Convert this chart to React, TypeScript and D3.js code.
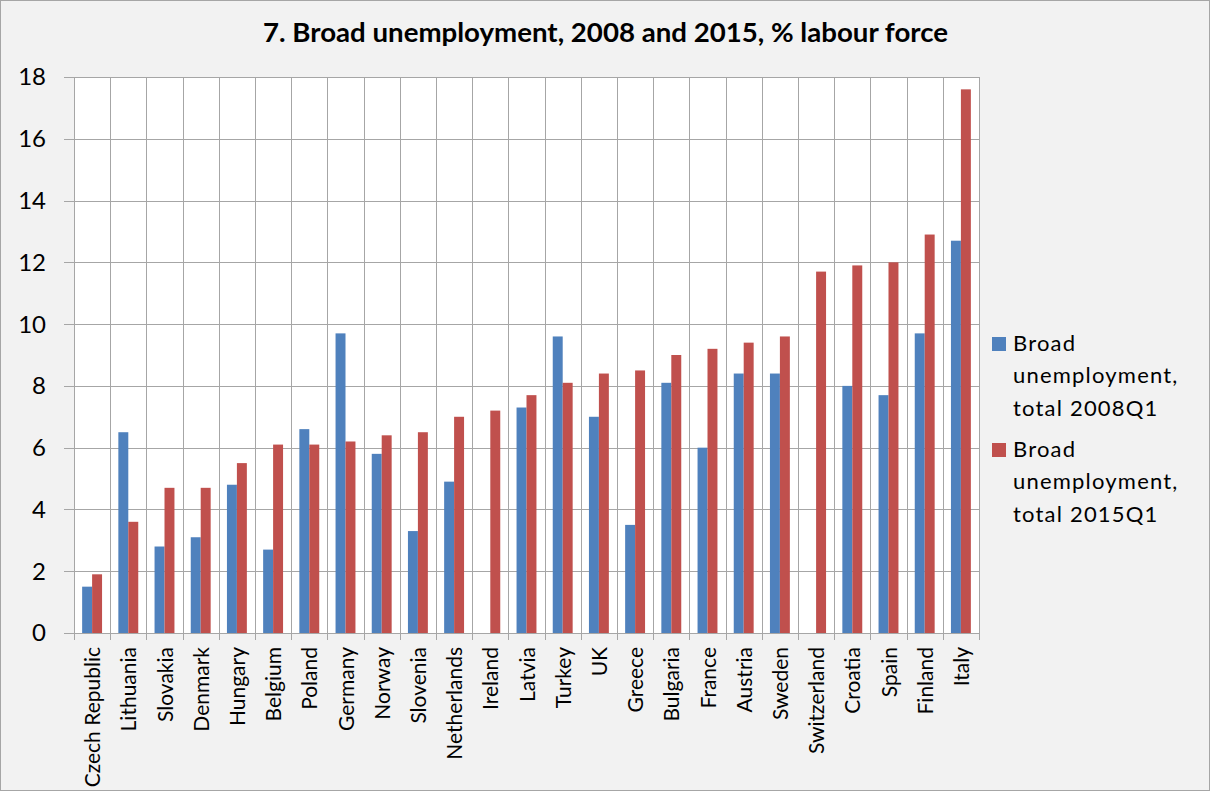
import React from "react";
import * as d3 from "d3";

const countries = [
  "Czech Republic", "Lithuania", "Slovakia", "Denmark", "Hungary", "Belgium", "Poland",
  "Germany", "Norway", "Slovenia", "Netherlands", "Ireland", "Latvia", "Turkey", "UK",
  "Greece", "Bulgaria", "France", "Austria", "Sweden", "Switzerland", "Croatia", "Spain",
  "Finland", "Italy",
];
const values2008: (number | null)[] = [
  1.5, 6.5, 2.8, 3.1, 4.8, 2.7, 6.6, 9.7, 5.8, 3.3, 4.9, null, 7.3, 9.6, 7.0,
  3.5, 8.1, 6.0, 8.4, 8.4, null, 8.0, 7.7, 9.7, 12.7,
];
const values2015: (number | null)[] = [
  1.9, 3.6, 4.7, 4.7, 5.5, 6.1, 6.1, 6.2, 6.4, 6.5, 7.0, 7.2, 7.7, 8.1, 8.4,
  8.5, 9.0, 9.2, 9.4, 9.6, 11.7, 11.9, 12.0, 12.9, 17.6,
];
const seriesNames = ["Broad unemployment, total 2008Q1", "Broad unemployment, total 2015Q1"];
const seriesLegendLines = [
  ["Broad", "unemployment,", "total 2008Q1"],
  ["Broad", "unemployment,", "total 2015Q1"],
];
const seriesColors = ["#4f81bd", "#c0504d"];
const yTicks = [0, 2, 4, 6, 8, 10, 12, 14, 16, 18];
const title = "7. Broad unemployment, 2008 and 2015, % labour force";

const W = 1210;
const H = 791;
const plot = { left: 74, right: 979, top: 77, bottom: 633 };
const FONT = "Lato, 'Open Sans', sans-serif";

export default function App() {
  const x = d3.scaleBand<string>().domain(countries).range([plot.left, plot.right]).padding(0);
  const bw = x.bandwidth();
  const x1 = d3
    .scaleBand<number>()
    .domain([0, 1])
    .range([bw * 0.225, bw * 0.775])
    .padding(0);
  const y = d3.scaleLinear().domain([0, 18]).range([plot.bottom, plot.top]);
  const series = [values2008, values2015];
  const gridColor = "#a6a6a6";

  return (
    <div style={{ position: "absolute", left: 0, top: 0 }}>
      <svg width={W} height={H} style={{ display: "block" }}>
        <rect x={0.5} y={0.5} width={W - 1} height={H - 1} fill="#f2f2f2" stroke="#a6a6a6" />
        <text
          x={605.5}
          y={42}
          textAnchor="middle"
          fontFamily={FONT}
          fontWeight="bold"
          fontSize={27}
          textLength={685}
          lengthAdjust="spacingAndGlyphs"
          fill="#000"
        >
          {title}
        </text>
        <rect
          x={plot.left}
          y={plot.top}
          width={plot.right - plot.left}
          height={plot.bottom - plot.top}
          fill="#fff"
        />
        {yTicks.map((t) => (
          <line
            key={"h" + t}
            x1={plot.left - 10}
            x2={plot.right}
            y1={Math.round(y(t)) + 0.5}
            y2={Math.round(y(t)) + 0.5}
            stroke={gridColor}
            strokeWidth={1}
          />
        ))}
        {d3.range(countries.length + 1).map((i) => {
          const xx = Math.round(plot.left + i * bw) + 0.5;
          return (
            <line
              key={"v" + i}
              x1={xx}
              x2={xx}
              y1={plot.top}
              y2={plot.bottom + 7}
              stroke={gridColor}
              strokeWidth={1}
            />
          );
        })}
        {series.map((vals, si) =>
          vals.map((v, i) =>
            v == null ? null : (
              <rect
                key={si + "-" + i}
                x={(x(countries[i]) as number) + (x1(si) as number)}
                y={y(v)}
                width={x1.bandwidth()}
                height={y(0) - y(v)}
                fill={seriesColors[si]}
              />
            )
          )
        )}
        {yTicks.map((t) => (
          <text
            key={"yl" + t}
            x={46}
            y={y(t)}
            dy="0.35em"
            textAnchor="end"
            fontFamily={FONT}
            fontSize={24}
            fill="#000"
          >
            {t}
          </text>
        ))}
        {countries.map((c) => {
          const cx = (x(c) as number) + bw / 2;
          return (
            <text
              key={"xl" + c}
              transform={`translate(${cx + 8},${plot.bottom + 14}) rotate(-90)`}
              textAnchor="end"
              fontFamily={FONT}
              fontSize={21}
              fill="#000"
            >
              {c}
            </text>
          );
        })}
        {seriesNames.map((name, si) => {
          const base = 351 + si * 106;
          return (
            <g key={"lg" + si}>
              <title>{name}</title>
              <rect x={992} y={base - 14} width={14} height={14} fill={seriesColors[si]} />
              {seriesLegendLines[si].map((line, li) => (
                <text
                  key={li}
                  x={1013}
                  y={base + li * 32.3}
                  fontFamily={FONT}
                  fontSize={22}
                  letterSpacing={1.2}
                  fill="#000"
                >
                  {line}
                </text>
              ))}
            </g>
          );
        })}
      </svg>
    </div>
  );
}
